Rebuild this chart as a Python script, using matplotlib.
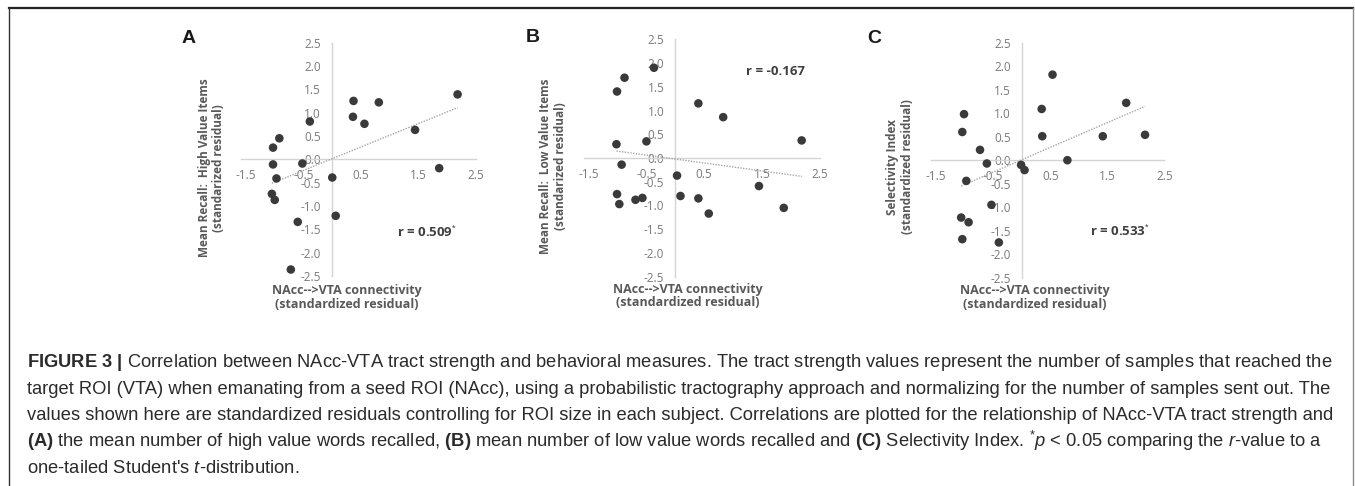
import numpy as np
import matplotlib
matplotlib.use("Agg")
import matplotlib.pyplot as plt
from matplotlib import font_manager
from matplotlib.lines import Line2D

W, H = 1355, 486

# tick positions / labels (Excel style axes crossing at 0)
x_ticks = [-1.5, -0.5, 0.5, 1.5, 2.5]
x_tick_labels = ["-1.5", "-0.5", "0.5", "1.5", "2.5"]
y_ticks = [-2.5, -2.0, -1.5, -1.0, -0.5, 0.0, 0.5, 1.0, 1.5, 2.0, 2.5]
y_tick_labels = ["-2.5", "-2.0", "-1.5", "-1.0", "-0.5", "0.0", "0.5", "1.0", "1.5", "2.0", "2.5"]

# panel A: high value recall vs NAcc->VTA connectivity
high_x = [2.18, 0.37, 0.81, 0.36, 0.56, 1.44, -0.39, -0.92, -1.03, -1.03,
          -0.52, -0.97, 0.00, 1.86, -1.05, -1.00, -0.60, 0.06, -0.72]
high_y = [1.39, 1.25, 1.22, 0.91, 0.76, 0.63, 0.81, 0.45, 0.25, -0.11,
          -0.09, -0.41, -0.39, -0.19, -0.74, -0.87, -1.34, -1.21, -2.36]

# panel B: low value recall
low_x = [-0.37, -0.88, -1.01, 0.40, 0.83, 2.19, -1.02, -0.50, -0.93, 0.03,
         1.45, -1.01, -0.97, -0.69, -0.57, 0.09, 0.40, 0.58, 1.88]
low_y = [1.90, 1.69, 1.40, 1.15, 0.86, 0.37, 0.29, 0.35, -0.14, -0.37,
         -0.59, -0.76, -0.97, -0.88, -0.84, -0.80, -0.85, -1.17, -1.05]

# panel C: selectivity index
sel_x = [0.54, 1.83, 0.35, -1.01, -1.04, 0.36, 1.42, 2.16, -0.73, -0.61,
         0.80, -0.01, 0.05, -0.97, -0.53, -1.06, -0.93, -1.04, -0.40]
sel_y = [1.82, 1.22, 1.09, 0.98, 0.60, 0.51, 0.51, 0.54, 0.22, -0.07,
         0.00, -0.10, -0.21, -0.44, -0.95, -1.22, -1.32, -1.68, -1.75]

r_labels = ["r = 0.509$^{*}$", "r = -0.167", "r = 0.533$^{*}$"]
r_pos = [(1.65, -1.56), (1.73, 1.82), (1.72, -1.52)]
y_titles = ["Mean Recall:  High Value Items\n(standarized residual)",
            "Mean Recall:  Low Value Items\n(standarized residual)",
            "Selectivity Index\n(standardized residual)"]
x_title = "NAcc-->VTA connectivity\n(standardized residual)"
letters = ["A", "B", "C"]

caption_lines = [
    r"$\mathbf{FIGURE\ 3\ |}$ Correlation between NAcc-VTA tract strength and behavioral measures. The tract strength values represent the number of samples that reached the",
    "target ROI (VTA) when emanating from a seed ROI (NAcc), using a probabilistic tractography approach and normalizing for the number of samples sent out. The",
    "values shown here are standardized residuals controlling for ROI size in each subject. Correlations are plotted for the relationship of NAcc-VTA tract strength and",
    r"$\mathbf{(A)}$ the mean number of high value words recalled, $\mathbf{(B)}$ mean number of low value words recalled and $\mathbf{(C)}$ Selectivity Index. $^{*}\mathit{p}$ < 0.05 comparing the $\mathit{r}$-value to a",
    r"one-tailed Student's $\mathit{t}$-distribution.",
]

names = {f.name for f in font_manager.fontManager.ttflist}
cap_font = "Liberation Sans Narrow" if "Liberation Sans Narrow" in names else "Liberation Sans"
plt.rcParams["mathtext.fontset"] = "custom"
plt.rcParams["mathtext.rm"] = cap_font
plt.rcParams["mathtext.bf"] = cap_font + ":bold"
plt.rcParams["mathtext.it"] = cap_font + ":italic"

fig = plt.figure(figsize=(W / 100, H / 100), dpi=100)


def fx(px):
    return px / W


def fy(py):
    return 1 - py / H


# layout of each panel in pixels: origin x, px per unit x, origin y, px per unit y
panels = [
    (332.25, 57.5, 159.3, 46.7, high_x, high_y, (211.5, 168), (347, 297), (189, 43)),
    (675.3, 57.7, 158.0, 47.5, low_x, low_y, (553, 166), (688, 296), (533, 42)),
    (1021.7, 57.1, 160.2, 47.0, sel_x, sel_y, (900, 167), (1035, 297), (874, 43)),
]
xlim = (-1.58, 2.5)
ylim = (-2.5, 2.5)
axis_grey = "#d4d4d4"
tick_grey = "#7a7a7a"
title_grey = "#595959"

for i, (x0, sx, y0, sy, xs, ys, ylab_pos, xlab_pos, let_pos) in enumerate(panels):
    left = x0 + sx * xlim[0]
    ax = fig.add_axes([fx(left), fy(y0 - sy * ylim[0]),
                       sx * (xlim[1] - xlim[0]) / W, sy * (ylim[1] - ylim[0]) / H])
    ax.set_xlim(*xlim)
    ax.set_ylim(*ylim)
    ax.patch.set_alpha(0)
    for s in ["top", "right"]:
        ax.spines[s].set_visible(False)
    ax.spines["left"].set_position(("data", 0))
    ax.spines["bottom"].set_position(("data", 0))
    for s in ["left", "bottom"]:
        ax.spines[s].set_color(axis_grey)
        ax.spines[s].set_linewidth(1.0)
    ax.set_xticks(x_ticks)
    ax.set_xticklabels(x_tick_labels)
    ax.set_yticks(y_ticks)
    ax.set_yticklabels(y_tick_labels)
    ax.tick_params(axis="x", length=0, pad=7, labelsize=8.5, labelcolor=tick_grey)
    ax.tick_params(axis="y", length=0, pad=8, labelsize=8.5, labelcolor=tick_grey)
    for lab in ax.get_xticklabels() + ax.get_yticklabels():
        lab.set_fontfamily("Open Sans")

    xa = np.array(xs)
    ya = np.array(ys)
    m, b = np.polyfit(xa, ya, 1)
    xl = np.array([xa.min(), xa.max()])
    ax.plot(xl, m * xl + b, color="#a6a6a6", lw=1.0, ls=(0, (1, 1)), zorder=3)
    ax.scatter(xa, ya, s=38, color="#3a3a3a", edgecolors="none", zorder=4, clip_on=False)

    ax.text(r_pos[i][0], r_pos[i][1], r_labels[i], ha="center", va="center",
            fontsize=9.5, fontweight="bold", color="#404040", family="Open Sans")

    fig.text(fx(ylab_pos[0]), fy(ylab_pos[1]), y_titles[i], rotation=90,
             ha="center", va="center", multialignment="center",
             fontsize=8.5, fontweight="bold", color=title_grey, family="Open Sans",
             linespacing=1.15)
    fig.text(fx(xlab_pos[0]), fy(xlab_pos[1]), x_title, ha="center", va="center",
             multialignment="center", fontsize=9, fontweight="bold",
             color=title_grey, family="Open Sans", linespacing=1.1)
    fig.text(fx(let_pos[0]), fy(let_pos[1]), letters[i], ha="center", va="baseline",
             fontsize=14, fontweight="bold", color="#1a1a1a", family="Liberation Sans")

# caption
baselines = [367, 393.5, 420, 446.5, 473]
cap_texts = []
for line, yb in zip(caption_lines, baselines):
    t = fig.text(fx(27), fy(yb), line, ha="left", va="baseline", fontsize=10,
                 color="#2b2b2b", family=cap_font)
    cap_texts.append(t)

fig.canvas.draw()
rend = fig.canvas.get_renderer()
w1 = cap_texts[0].get_window_extent(rend).width
size = 10 * (1328 - 27) / w1
for t in cap_texts:
    t.set_fontsize(size)

# frame around the figure block
fig.add_artist(Line2D([fx(9), fx(1353)], [fy(8), fy(8)], color="#222222", lw=1.6,
                      transform=fig.transFigure))
fig.add_artist(Line2D([fx(9), fx(9)], [fy(8), fy(486)], color="#333333", lw=1.0,
                      transform=fig.transFigure))
fig.add_artist(Line2D([fx(1352.5), fx(1352.5)], [fy(8), fy(486)], color="#8a8a8a", lw=1.0,
                      transform=fig.transFigure))

fig.savefig("out.png", dpi=100)
